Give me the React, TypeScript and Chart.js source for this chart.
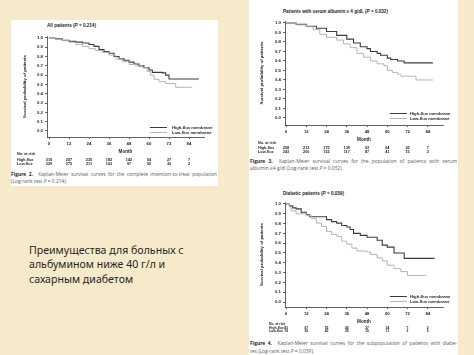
import React, { useEffect, useRef } from "react";
import { Chart, registerables } from "chart.js";

Chart.register(...registerables);

// ---------------- data ----------------
const monthTicks = [0, 12, 24, 36, 48, 60, 72, 84];
const survivalTicks = [0, 0.1, 0.2, 0.3, 0.4, 0.5, 0.6, 0.7, 0.8, 0.9, 1.0];
const seriesLabels = ["High-flux membrane", "Low-flux membrane"];
const riskRowLabels = ["No. at risk", "High-flux", "Low-flux"];
const yAxisTitle = "Survival probability of patients";
const xAxisTitle = "Month";

// Figure 2 – all patients
const allHighMonths = [0, 4, 8, 12, 16, 20, 24, 27, 30, 33, 36, 39, 42, 45, 48, 51, 54, 57, 60, 62, 68, 70, 72, 90];
const allHighSurv = [1, 0.99, 0.975, 0.963, 0.955, 0.945, 0.93, 0.91, 0.875, 0.855, 0.835, 0.8, 0.775, 0.76, 0.74, 0.72, 0.7, 0.68, 0.655, 0.63, 0.625, 0.6, 0.558, 0.558];
const allLowMonths = [0, 4, 8, 12, 16, 20, 24, 28, 32, 36, 40, 44, 48, 52, 56, 59, 61, 63, 66, 70, 76, 86];
const allLowSurv = [1, 0.985, 0.97, 0.955, 0.93, 0.91, 0.885, 0.865, 0.845, 0.815, 0.775, 0.745, 0.715, 0.7, 0.68, 0.64, 0.6, 0.556, 0.53, 0.51, 0.47, 0.47];
const allRiskHigh = [319, 297, 235, 182, 142, 54, 27, 7];
const allRiskLow = [329, 275, 211, 163, 97, 55, 30, 2];

// Figure 3 – serum albumin <= 4 g/dL
const albHighMonths = [0, 6, 12, 18, 24, 30, 36, 40, 44, 48, 50, 54, 56, 60, 62, 66, 70, 87];
const albHighSurv = [1, 0.985, 0.965, 0.945, 0.91, 0.87, 0.83, 0.79, 0.75, 0.73, 0.7, 0.68, 0.66, 0.63, 0.615, 0.6, 0.58, 0.58];
const albLowMonths = [0, 6, 12, 16, 20, 24, 30, 34, 38, 42, 46, 50, 54, 58, 60, 63, 66, 68, 77, 87];
const albLowSurv = [1, 0.98, 0.96, 0.93, 0.88, 0.85, 0.82, 0.78, 0.74, 0.68, 0.64, 0.6, 0.57, 0.55, 0.5, 0.48, 0.46, 0.44, 0.4, 0.4];
const albRiskHigh = [258, 213, 175, 139, 93, 64, 26, 7];
const albRiskLow = [243, 200, 152, 117, 87, 41, 15, 2];

// Figure 4 – diabetic patients
const diaHighMonths = [0, 2, 4, 6, 9, 12, 14, 24, 27, 30, 33, 36, 38, 40, 44, 48, 54, 57, 60, 64, 70, 88];
const diaHighSurv = [1, 0.98, 0.96, 0.95, 0.915, 0.89, 0.87, 0.84, 0.82, 0.805, 0.78, 0.765, 0.74, 0.7, 0.68, 0.66, 0.63, 0.58, 0.56, 0.5, 0.445, 0.445];
const diaLowMonths = [0, 2, 3, 6, 12, 15, 18, 21, 24, 27, 30, 33, 36, 39, 42, 48, 50, 54, 57, 60, 64, 68, 72, 83];
const diaLowSurv = [1, 0.97, 0.93, 0.9, 0.88, 0.85, 0.805, 0.77, 0.72, 0.69, 0.67, 0.62, 0.59, 0.55, 0.52, 0.51, 0.485, 0.45, 0.42, 0.375, 0.34, 0.31, 0.27, 0.27];
const diaRiskHigh = [83, 67, 55, 40, 27, 14, 7, 2];
const diaRiskLow = [74, 59, 40, 25, 15, 11, 2, 0];

// ---------------- styles ----------------
const BG = "#F6EACB";
const HIGH_COLOR = "#3c3c3c";
const LOW_COLOR = "#b4b4b4";
const AXIS = "#3a3a3a";
const TEXT = "#1e1e1e";
const FONT = '"Liberation Sans", Arial, sans-serif';

type KMProps = {
  box: { left: number; top: number; width: number; height: number };
  pad: { top: number; right: number; bottom: number };
  yAxisWidth: number;
  xAxisHeight: number;
  xRange: [number, number];
  yRange: [number, number];
  yTitlePad: number;
  monthPad: number;
  highMonths: number[];
  highSurv: number[];
  lowMonths: number[];
  lowSurv: number[];
  riskHigh: number[];
  riskLow: number[];
  riskLabelX: number;
  riskRows: [number, number, number];
  riskFont: number;
  legend: { x0: number; x1: number; xt: number; y: [number, number] };
};

function KMChart(p: KMProps) {
  const ref = useRef<HTMLCanvasElement>(null);
  useEffect(() => {
    const canvas = ref.current!;
    const toPts = (m: number[], s: number[]) => m.map((x, i) => ({ x, y: s[i] }));
    const extras = {
      id: "kmExtras",
      afterDraw(chart: any) {
        const { ctx, chartArea } = chart;
        const xs = chart.scales.x;
        const ys = chart.scales.y;
        ctx.save();
        const colors = [HIGH_COLOR, LOW_COLOR];
        p.legend.y.forEach((yv, i) => {
          const py = Math.round(ys.getPixelForValue(yv)) + 0.5;
          ctx.strokeStyle = colors[i];
          ctx.lineWidth = 1;
          ctx.beginPath();
          ctx.moveTo(xs.getPixelForValue(p.legend.x0), py);
          ctx.lineTo(xs.getPixelForValue(p.legend.x1), py);
          ctx.stroke();
          ctx.fillStyle = TEXT;
          ctx.font = `bold 4.2px ${FONT}`;
          ctx.textAlign = "left";
          ctx.textBaseline = "middle";
          ctx.fillText(seriesLabels[i], xs.getPixelForValue(p.legend.xt), py);
        });
        const base = chartArea.bottom;
        ctx.font = `bold ${p.riskFont}px ${FONT}`;
        ctx.fillStyle = TEXT;
        ctx.textBaseline = "middle";
        riskRowLabels.forEach((lab, r) => {
          ctx.textAlign = "left";
          ctx.fillText(lab, p.riskLabelX, base + p.riskRows[r]);
        });
        monthTicks.forEach((m, i) => {
          const px = xs.getPixelForValue(m);
          ctx.textAlign = "center";
          ctx.fillText(String(p.riskHigh[i]), px, base + p.riskRows[1]);
          ctx.fillText(String(p.riskLow[i]), px, base + p.riskRows[2]);
        });
        ctx.restore();
      },
    };
    const tickFont = { family: FONT, size: 4.3, weight: "bold" as const };
    const chart = new Chart(canvas, {
      type: "line",
      data: {
        datasets: [
          {
            label: seriesLabels[1],
            data: toPts(p.lowMonths, p.lowSurv),
            borderColor: LOW_COLOR,
            borderWidth: 1,
            stepped: true,
            pointRadius: 0,
            fill: false,
          },
          {
            label: seriesLabels[0],
            data: toPts(p.highMonths, p.highSurv),
            borderColor: HIGH_COLOR,
            borderWidth: 1.1,
            stepped: true,
            pointRadius: 0,
            fill: false,
          },
        ],
      },
      options: {
        animation: false,
        responsive: false,
        maintainAspectRatio: false,
        layout: { padding: { top: p.pad.top, right: p.pad.right, bottom: p.pad.bottom, left: 0 } },
        plugins: { legend: { display: false }, tooltip: { enabled: false }, title: { display: false } },
        scales: {
          x: {
            type: "linear",
            min: p.xRange[0],
            max: p.xRange[1],
            afterBuildTicks: (s: any) => {
              s.ticks = monthTicks.map((v) => ({ value: v }));
            },
            afterFit: (s: any) => {
              s.height = p.xAxisHeight;
            },
            grid: { display: true, drawOnChartArea: false, drawTicks: true, tickLength: 2, color: AXIS, lineWidth: 0.8 },
            border: { display: true, color: AXIS, width: 0.8 },
            ticks: { font: tickFont, color: TEXT, padding: 2, maxRotation: 0, autoSkip: false },
            title: {
              display: true,
              text: xAxisTitle,
              font: { family: FONT, size: 4.6, weight: "bold" },
              color: TEXT,
              padding: { top: 0, bottom: p.monthPad },
            },
          },
          y: {
            type: "linear",
            min: p.yRange[0],
            max: p.yRange[1],
            afterBuildTicks: (s: any) => {
              s.ticks = survivalTicks.map((v) => ({ value: v }));
            },
            afterFit: (s: any) => {
              s.width = p.yAxisWidth;
            },
            grid: { display: true, drawOnChartArea: false, drawTicks: true, tickLength: 2, color: AXIS, lineWidth: 0.8 },
            border: { display: true, color: AXIS, width: 0.8 },
            ticks: {
              font: tickFont,
              color: TEXT,
              padding: 2,
              autoSkip: false,
              callback: (v: any) => Number(v).toFixed(1),
            },
            title: {
              display: true,
              text: yAxisTitle,
              font: { family: FONT, size: 4.3, weight: "bold" },
              color: TEXT,
              padding: { top: p.yTitlePad, bottom: 0 },
            },
          },
        },
      },
      plugins: [extras],
    });
    return () => chart.destroy();
  }, []);
  return (
    <canvas
      ref={ref}
      width={p.box.width}
      height={p.box.height}
      style={{ position: "absolute", left: p.box.left, top: p.box.top, width: p.box.width, height: p.box.height }}
    />
  );
}

type Seg = { t: string; b?: boolean; i?: boolean };

function CaptionLine(props: { left: number; top: number; width: number; segs: Seg[]; justify?: boolean }) {
  const words: { w: string; b?: boolean; i?: boolean }[] = [];
  props.segs.forEach((s) => s.t.split(" ").filter((w) => w.length).forEach((w) => words.push({ w, b: s.b, i: s.i })));
  return (
    <div
      style={{
        position: "absolute",
        left: props.left,
        top: props.top,
        width: props.width,
        height: 7,
        display: "flex",
        justifyContent: props.justify ? "space-between" : "flex-start",
        gap: props.justify ? 0 : 1.3,
        whiteSpace: "nowrap",
        fontFamily: '"Open Sans", "Noto Sans", sans-serif',
        fontSize: 4.9,
        lineHeight: "7px",
        color: "#5a5a5a",
      }}
    >
      {words.map((w, k) => (
        <span
          key={k}
          style={{
            fontWeight: w.b ? 700 : 400,
            fontStyle: w.i ? "italic" : "normal",
            color: w.b ? "#2a2a2a" : "#5a5a5a",
            marginRight: w.b && k === 1 ? 3 : 0,
          }}
        >
          {w.w}
        </span>
      ))}
    </div>
  );
}

function ChartTitle(props: { left: number; top: number; parts: Seg[] }) {
  return (
    <div
      style={{
        position: "absolute",
        left: props.left,
        top: props.top,
        whiteSpace: "nowrap",
        fontFamily: FONT,
        fontWeight: 700,
        fontSize: 4.6,
        lineHeight: "6px",
        color: TEXT,
      }}
    >
      {props.parts.map((s, k) => (
        <span key={k} style={{ fontStyle: s.i ? "italic" : "normal" }}>
          {s.t}
        </span>
      ))}
    </div>
  );
}

export default function App() {
  return (
    <div
      style={{
        position: "fixed",
        left: 0,
        top: 0,
        width: 474,
        height: 355,
        overflow: "hidden",
        background: BG,
      }}
    >
      {/* white panels */}
      <div style={{ position: "absolute", left: 11, top: 20, width: 207, height: 166, background: "#ffffff" }} />
      <div style={{ position: "absolute", left: 249, top: 0, width: 209, height: 355, background: "#ffffff" }} />

      {/* Figure 2 */}
      <ChartTitle left={47} top={23} parts={[{ t: "All patients (" }, { t: "P", i: true }, { t: " = 0.214)" }]} />
      <KMChart
        box={{ left: 11, top: 30, width: 207, height: 138 }}
        pad={{ top: 6.1, right: 14, bottom: 12 }}
        yAxisWidth={36}
        xAxisHeight={19}
        xRange={[-1.2, 93]}
        yRange={[-0.065, 1.02]}
        yTitlePad={11.3}
        monthPad={1.3}
        highMonths={allHighMonths}
        highSurv={allHighSurv}
        lowMonths={allLowMonths}
        lowSurv={allLowSurv}
        riskHigh={allRiskHigh}
        riskLow={allRiskLow}
        riskLabelX={6}
        riskRows={[17, 22.5, 27]}
        riskFont={3.8}
        legend={{ x0: 60.6, x1: 70.8, xt: 73.8, y: [0.043, -0.011] }}
      />
      <CaptionLine
        left={11}
        top={170.5}
        width={206}
        justify
        segs={[{ t: "Figure 2.", b: true }, { t: "Kaplan-Meier survival curves for the complete intention-to-treat population" }]}
      />
      <CaptionLine
        left={11}
        top={177.5}
        width={206}
        segs={[{ t: "(Log-rank test" }, { t: "P", i: true }, { t: "= 0.214)." }]}
      />

      {/* Figure 3 */}
      <ChartTitle
        left={283}
        top={9}
        parts={[{ t: "Patients with serum albumin \u2264 4 g/dL (" }, { t: "P", i: true }, { t: " = 0.032)" }]}
      />
      <KMChart
        box={{ left: 249, top: 15, width: 209, height: 141 }}
        pad={{ top: 6.1, right: 15, bottom: 13 }}
        yAxisWidth={36}
        xAxisHeight={18}
        xRange={[-0.6, 93]}
        yRange={[-0.074, 1.02]}
        yTitlePad={10.3}
        monthPad={0.3}
        highMonths={albHighMonths}
        highSurv={albHighSurv}
        lowMonths={albLowMonths}
        lowSurv={albLowSurv}
        riskHigh={albRiskHigh}
        riskLow={albRiskLow}
        riskLabelX={9}
        riskRows={[18, 22.5, 27]}
        riskFont={3.8}
        legend={{ x0: 61.5, x1: 71.6, xt: 73.4, y: [0.053, 0.0] }}
      />
      <CaptionLine
        left={250}
        top={157.5}
        width={207}
        justify
        segs={[{ t: "Figure 3.", b: true }, { t: "Kaplan-Meier survival curves for the population of patients with serum" }]}
      />
      <CaptionLine
        left={250}
        top={164.5}
        width={207}
        segs={[{ t: "albumin \u22644 g/dl (Log-rank test" }, { t: "P", i: true }, { t: "= 0.032)." }]}
      />

      {/* Figure 4 */}
      <ChartTitle left={283} top={191} parts={[{ t: "Diabetic patients (" }, { t: "P", i: true }, { t: " = 0.039)" }]} />
      <KMChart
        box={{ left: 249, top: 196, width: 209, height: 139 }}
        pad={{ top: 6, right: 15, bottom: 10 }}
        yAxisWidth={36}
        xAxisHeight={18}
        xRange={[-0.6, 93]}
        yRange={[-0.051, 1.02]}
        yTitlePad={10.3}
        monthPad={0.3}
        highMonths={diaHighMonths}
        highSurv={diaHighSurv}
        lowMonths={diaLowMonths}
        lowSurv={diaLowSurv}
        riskHigh={diaRiskHigh}
        riskLow={diaRiskLow}
        riskLabelX={20}
        riskRows={[16.8, 20.6, 24.4]}
        riskFont={3.4}
        legend={{ x0: 61.5, x1: 71.6, xt: 73.4, y: [0.061, 0.01] }}
      />
      <CaptionLine
        left={250}
        top={339.5}
        width={207}
        justify
        segs={[{ t: "Figure 4.", b: true }, { t: "Kaplan-Meier survival curves for the subpopulation of patients with diabe-" }]}
      />
      <CaptionLine
        left={250}
        top={347.5}
        width={207}
        segs={[{ t: "tes (Log-rank test" }, { t: "P", i: true }, { t: "= 0.039)." }]}
      />

      {/* slide text */}
      <div
        style={{
          position: "absolute",
          left: 29,
          top: 242.5,
          fontFamily: '"Noto Sans", "Open Sans", sans-serif',
          fontSize: 10.6,
          lineHeight: "14.5px",
          color: "#262626",
          whiteSpace: "nowrap",
        }}
      >
        <div>Преимущества для больных с</div>
        <div>альбумином ниже 40 г/л и</div>
        <div>сахарным диабетом</div>
      </div>
    </div>
  );
}
